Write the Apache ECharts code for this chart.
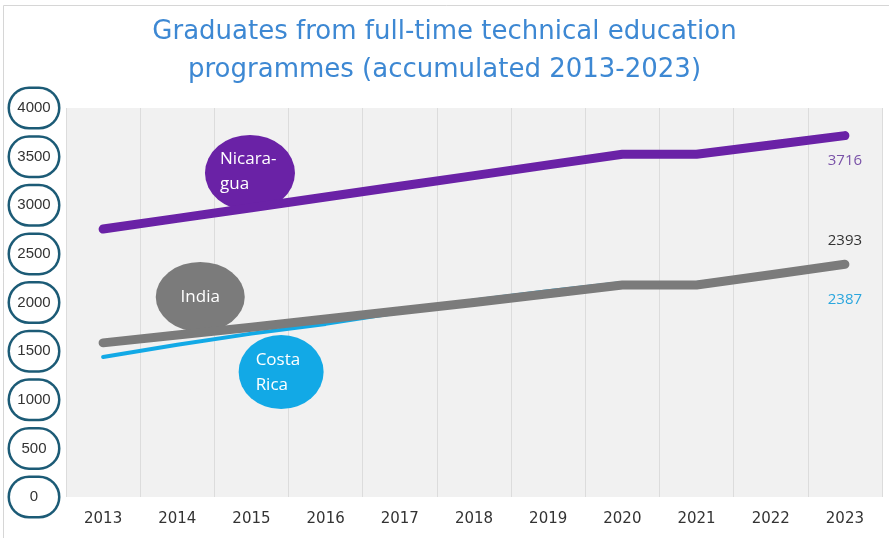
<!DOCTYPE html>
<html>
<head>
<meta charset="utf-8">
<script src="https://cdn.jsdelivr.net/npm/echarts@6/dist/echarts.min.js"></script>
<style>
  html, body { margin: 0; padding: 0; background: #ffffff; }
  #chart { width: 889px; height: 538px; }
</style>
</head>
<body>
<div id="chart"></div>
<script>
const years = ['2013','2014','2015','2016','2017','2018','2019','2020','2021','2022','2023'];
const nicaragua = [2755, 2865, 2975, 3085, 3195, 3305, 3415, 3525, 3525, 3620, 3716];
const india     = [1585, 1665, 1745, 1830, 1915, 2000, 2090, 2180, 2180, 2285, 2393];
const costaRica = [1440, 1565, 1680, 1780, 1900, 2020, 2115, 2200, 2200, 2295, 2387];
const yTicks = [0, 500, 1000, 1500, 2000, 2500, 3000, 3500, 4000];
// bubble annotations: [category position (index), value, text]
const bubbleNicaragua = [1.98, 3332, 'Nicara-\ngua'];
const bubbleIndia     = [1.31, 2057, 'India'];
const bubbleCosta     = [2.40, 1285, 'Costa\nRica'];

const C_NIC = '#6a22a6', C_IND = '#7b7b7b', C_CR = '#12a9e6';

function lineData(arr, labelOpt) {
  return arr.map((v, i) => i === arr.length - 1 ? { value: v, label: labelOpt } : v);
}

const chart = echarts.init(document.getElementById('chart'), null, { renderer: 'canvas' });
chart.setOption({
  backgroundColor: '#ffffff',
  animation: false,
  title: {
    text: 'Graduates from full-time technical education\nprogrammes (accumulated 2013-2023)',
    left: 'center',
    top: 8,
    textStyle: {
      color: '#3d88d3',
      fontSize: 26,
      fontWeight: 'normal',
      fontFamily: 'DejaVu Sans',
      lineHeight: 38
    }
  },
  graphic: [{
    type: 'rect',
    shape: { x: 3.5, y: 5.5, width: 900, height: 600 },
    style: { fill: 'none', stroke: '#d6d6d6', lineWidth: 1 },
    silent: true, z: -10
  }],
  grid: {
    left: 66, right: 7, top: 108, bottom: 41,
    show: true, backgroundColor: '#f1f1f1', borderWidth: 0
  },
  xAxis: [{
    type: 'category',
    data: years,
    boundaryGap: true,
    axisLine: { show: false },
    axisTick: { show: false },
    splitLine: { show: true, lineStyle: { color: '#dcdcdc', width: 1 } },
    axisLabel: { color: '#333', fontSize: 15, margin: 15, fontFamily: 'DejaVu Sans' }
  }, {
    type: 'value',
    min: -0.5, max: 10.5,
    show: false
  }],
  yAxis: {
    type: 'value',
    min: 0, max: 4000, interval: 500,
    axisLine: { show: false },
    axisTick: { show: false },
    splitLine: { show: false },
    axisLabel: {
      margin: 32,
      align: 'center',
      verticalAlign: 'middle',
      color: '#333',
      fontSize: 15,
      fontFamily: 'Liberation Sans',
      backgroundColor: '#ffffff',
      borderColor: '#1c5b76',
      borderWidth: 2.5,
      borderRadius: 20,
      width: 40,
      height: 30,
      lineHeight: 30,
      padding: [4, 4],
      formatter: v => yTicks.indexOf(v) >= 0 ? String(v) : ''
    }
  },
  series: [
    {
      type: 'scatter',
      xAxisIndex: 1,
      z: 1,
      silent: true,
      data: [
        {
          value: [bubbleNicaragua[0], bubbleNicaragua[1]],
          symbolSize: [90, 76],
          itemStyle: { color: C_NIC, opacity: 1 },
          label: { show: true, formatter: bubbleNicaragua[2], position: [15, 12], align: 'left', verticalAlign: 'top' }
        },
        {
          value: [bubbleIndia[0], bubbleIndia[1]],
          symbolSize: [89, 70],
          itemStyle: { color: C_IND, opacity: 1 },
          label: { show: true, formatter: bubbleIndia[2], position: 'inside' }
        },
        {
          value: [bubbleCosta[0], bubbleCosta[1]],
          symbolSize: [85, 74],
          itemStyle: { color: C_CR, opacity: 1 },
          label: { show: true, formatter: bubbleCosta[2], position: [17, 13], align: 'left', verticalAlign: 'top' }
        }
      ],
      symbol: 'circle',
      itemStyle: { opacity: 1 },
      label: { color: '#ffffff', fontSize: 17, lineHeight: 25, fontFamily: 'Open Sans' }
    },
    {
      name: 'Costa Rica',
      type: 'line',
      z: 2,
      data: lineData(costaRica, { show: true, position: 'bottom', distance: 27, color: '#2aa6de', fontSize: 15, fontFamily: 'Open Sans' }),
      showSymbol: true,
      symbol: 'circle',
      symbolSize: 1,
      itemStyle: { color: 'transparent', borderWidth: 0 },
      lineStyle: { color: C_CR, width: 4, cap: 'round', join: 'round' },
      label: { show: false }
    },
    {
      name: 'India',
      type: 'line',
      z: 3,
      data: lineData(india, { show: true, position: 'top', distance: 16, color: '#333', fontSize: 15, fontFamily: 'Open Sans' }),
      showSymbol: true,
      symbol: 'circle',
      symbolSize: 1,
      itemStyle: { color: 'transparent', borderWidth: 0 },
      lineStyle: { color: C_IND, width: 9, cap: 'round', join: 'round' },
      label: { show: false }
    },
    {
      name: 'Nicaragua',
      type: 'line',
      z: 3,
      data: lineData(nicaragua, { show: true, position: 'bottom', distance: 17, color: '#7a52a8', fontSize: 15, fontFamily: 'Open Sans' }),
      showSymbol: true,
      symbol: 'circle',
      symbolSize: 1,
      itemStyle: { color: 'transparent', borderWidth: 0 },
      lineStyle: { color: C_NIC, width: 9, cap: 'round', join: 'round' },
      label: { show: false }
    }
  ]
});
</script>
</body>
</html>
